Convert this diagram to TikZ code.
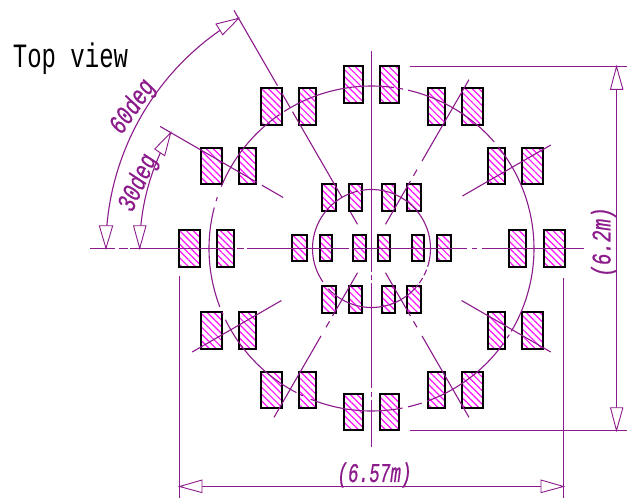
\documentclass[tikz,border=0pt]{standalone}
\usepackage{fontspec}
\setmonofont{Liberation Mono}
\usetikzlibrary{patterns.meta,calc}
\definecolor{dimc}{HTML}{8B1A8B}
\definecolor{hatchc}{HTML}{FF10FF}
\tikzset{
  cl/.style={draw=dimc,line width=1.1pt},
  hbox/.style={draw=black,line width=1.7pt,pattern={Lines[angle=-45,distance=4.8pt,line width=1.2pt]},pattern color=hatchc},
  ahead/.style={draw=dimc,line width=0.9pt,fill=white,line join=miter},
  dimtext/.style={text=dimc,font=\ttfamily\itshape\fontsize{18}{18}\selectfont\addfontfeature{FakeBold=0.6},inner sep=0pt,transform shape},
  titletext/.style={text=black,font=\ttfamily\fontsize{24}{24}\selectfont,inner sep=0pt,yscale=1.42,transform shape}
}
\newcommand{\hb}[4]{\pgfmathsetmacro{\xa}{round(#1)}\pgfmathsetmacro{\ya}{round(#2)}\pgfmathsetmacro{\xb}{round(#3)}\pgfmathsetmacro{\yb}{round(#4)}\path[hbox] (\xa,-\ya) rectangle (\xb,-\yb);}
\newcommand{\rad}[3]{\draw[cl] ($(c)+(#1:#2)$) -- ($(c)+(#1:#3)$);}
\newcommand{\bigarc}[2]{\draw[cl] ($(c)+(#1:162.5)$) arc[start angle=#1,end angle=#2,radius=162.5];}
\newcommand{\smallarc}[2]{\draw[cl] ($(c)+(#1:59)$) arc[start angle=#1,end angle=#2,radius=59];}
\begin{document}
\begin{tikzpicture}[x=1pt,y=1pt]
\useasboundingbox (0,0) rectangle (627,-499);
\coordinate (c) at (371.5,-248.5);
% outer boxes
\foreach \a/\b/\t/\u in {260.7/281.5/88/125,298.7/315.7/88/125,427.5/444.5/88/125,461.7/482.5/88/125,
  200.7/222/147.7/184.3,239/256.3/147.7/184.3,487.7/504.5/147.7/184.3,521.5/543/147.7/184.3,
  179/200/230/267,217.3/234/230/267,509.3/526/230/267,543.7/564.7/230/267,
  200.5/222/312.3/349,239.3/256/312.3/349,487.7/504.5/312.3/349,521.5/543/312.3/349,
  260.7/281.7/371.7/408.3,298.7/315.7/371.7/408.3,427.5/444.5/371.7/408.3,461.7/482.5/371.7/408.3,
  344/363/66/103,380/399/66/103,344/363/393.7/430.3,380/399/393.7/430.3,
  322.3/336.3/183.7/210.7,348.7/362.3/183.7/210.7,381.7/395.3/183.7/210.7,407.3/421.3/183.7/210.7,
  322.3/336.3/286/313,348.7/362.3/286/313,381.7/395.3/286/313,407.3/421.3/286/313,
  292.3/306.7/235.3/261.3,319.7/332.3/235.3/261.3,353.3/366/235.3/261.3,377.7/390.3/235.3/261.3,411.7/424.3/235.3/261.3,436.7/451.3/235.3/261.3}
  {\hb{\a}{\t}{\b}{\u}}
% centre lines
\foreach \p/\q in {90/115,119/127.7,130/234,237/244,247/349,353/467,472/477,481.7/584}
  {\draw[cl] (\p,-248.5) -- (\q,-248.5);}
\foreach \p/\q in {51/272,275/280,283/388,392/397,400/447}
  {\draw[cl] (371.5,-\p) -- (371.5,-\q);}
% radial lines
\rad{120}{275}{188}\rad{120}{179}{163}\rad{120}{158}{59}\rad{120}{42}{28}
\foreach \a in {60,240,300}{\rad{\a}{195}{101}\rad{\a}{91}{84}\rad{\a}{78}{28}}
\rad{150}{244}{132}\rad{150}{126.6}{102}
\rad{30}{207}{105}\rad{210}{207}{104}\rad{330}{207}{104}
% circles
\bigarc{157.6}{124.5}\bigarc{122.5}{82}\bigarc{80.5}{78.8}\bigarc{77}{41}\bigarc{38.7}{-30.7}
\bigarc{-32}{-33.4}\bigarc{-36}{-70}\bigarc{-72}{-77}\bigarc{-79}{-112}\bigarc{-115}{-116}\bigarc{-117.5}{-154}
\bigarc{-156}{-157}\bigarc{201}{165.4}\bigarc{163}{161.6}
\smallarc{214.5}{103}\smallarc{101}{-18}\smallarc{-21}{-27}\smallarc{-30}{-36}\smallarc{-38}{-137}
% angle dimensions
\draw[cl] ($(c)+(180:265.6)$) arc[start angle=180,end angle=120,radius=265.6];
\draw[cl] ($(c)+(180:231.8)$) arc[start angle=180,end angle=150,radius=231.8];
\draw[ahead] (106,-248.3) -- (99.3,-225.7) -- (112.7,-225.7) -- cycle;
\draw[ahead] (139.7,-248.3) -- (133.5,-225.7) -- (146,-225.7) -- cycle;
\draw[ahead] (238.7,-18.3) -- (216,-24) -- (222.7,-34.7) -- cycle;
\draw[ahead] (170.7,-132.7) -- (154.7,-149) -- (164.7,-155.7) -- cycle;
% linear dimensions
\coordinate (dl) at (179.5,-486.5);
\coordinate (dr) at (563.5,-486.5);
\coordinate (vt) at (616.5,-66.5);
\coordinate (vb) at (616.5,-430.5);
\draw[cl] (179.5,-276) -- (179.5,-498);
\draw[cl] (563.5,-278) -- (563.5,-498);
\draw[cl] (410,-66.5) -- (627,-66.5);
\draw[cl] (410,-430.5) -- (627,-430.5);
\draw[cl] (dl) -- (dr);
\draw[cl] (vt) -- (vb);
\draw[ahead] (dl) -- (202,-480) -- (202,-492.6) -- cycle;
\draw[ahead] (dr) -- (541,-480) -- (541,-492.6) -- cycle;
\draw[ahead] (vt) -- (610.5,-89.3) -- (622.9,-89.3) -- cycle;
\draw[ahead] (vb) -- (610.5,-407.7) -- (622.9,-407.7) -- cycle;
% text
\node[titletext] (title) at (70.5,-59) {Top view};
\node[dimtext,xscale=0.98,yscale=1.5] (w) at (374.5,-475) {(6.57m)};
\node[dimtext,rotate=90,xscale=1.07,yscale=1.5] (h) at (603.5,-242) {(6.2m)};
\node[dimtext,rotate=55,xscale=1.1,yscale=1.5] (a60) at (133,-107) {60deg};
\node[dimtext,rotate=65,xscale=1.1,yscale=1.5] (a30) at (138.5,-183) {30deg};
\end{tikzpicture}
\end{document}
